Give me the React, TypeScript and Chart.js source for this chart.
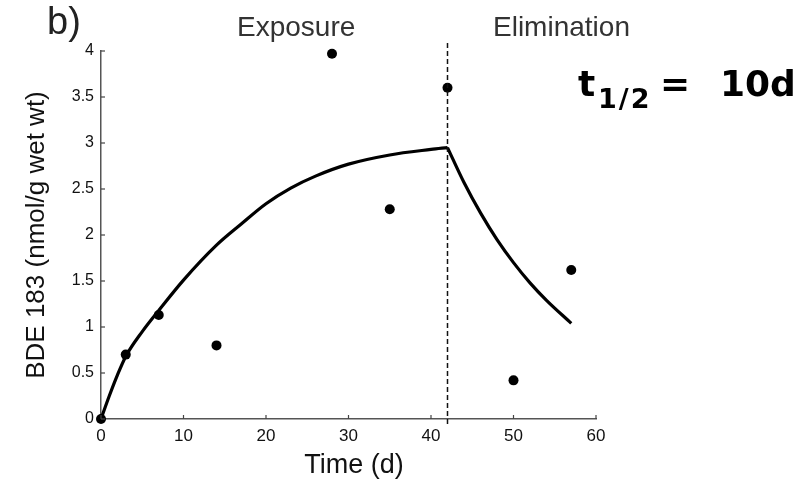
import React, { useEffect, useRef } from 'react';
import { Chart, registerables } from 'chart.js';

Chart.register(...registerables);

// Measured samples (day, nmol/g wet wt)
const sampleDays = [0, 3, 7, 14, 28, 35, 42, 50, 57];
const sampleConc = [0, 0.7, 1.13, 0.8, 3.97, 2.28, 3.6, 0.42, 1.62];

// Fitted curve: exposure phase
const uptakeDays = [0, 1, 2, 3, 5, 7, 10, 14, 17, 20, 23, 26, 30, 35, 40, 42];
const uptakeConc = [0, 0.25, 0.48, 0.68, 0.95, 1.18, 1.51, 1.89, 2.12, 2.34, 2.51, 2.64, 2.77, 2.87, 2.93, 2.95];

// Fitted curve: elimination phase
const elimDays = [42, 44, 46, 48, 50, 52, 54, 57];
const elimConc = [2.95, 2.57, 2.24, 1.95, 1.7, 1.48, 1.29, 1.04];

const xTicks = [0, 10, 20, 30, 40, 50, 60];
const yTicks = [0, 0.5, 1, 1.5, 2, 2.5, 3, 3.5, 4];
const switchDay = 42;

const panelLabel = 'b)';
const phaseLabels = ['Exposure', 'Elimination'];
const xTitle = 'Time (d)';
const yTitle = 'BDE 183 (nmol/g wet wt)';

const FONT = '"Liberation Sans", Arial, Helvetica, sans-serif';
const BOLD = '"DejaVu Sans", Verdana, sans-serif';

const decor = {
  id: 'decor',
  afterDraw(chart: any) {
    const { ctx, chartArea, scales } = chart;
    const x = scales.x;
    const y = scales.y;
    ctx.save();
    // inward tick marks
    ctx.strokeStyle = '#444';
    ctx.lineWidth = 1.2;
    xTicks.forEach((v) => {
      const px = x.getPixelForValue(v);
      ctx.beginPath();
      ctx.moveTo(px, chartArea.bottom);
      ctx.lineTo(px, chartArea.bottom - 4);
      ctx.stroke();
    });
    yTicks.forEach((v) => {
      const py = y.getPixelForValue(v);
      ctx.beginPath();
      ctx.moveTo(chartArea.left, py);
      ctx.lineTo(chartArea.left + 4, py);
      ctx.stroke();
    });
    // phase separator
    const dx = x.getPixelForValue(switchDay);
    ctx.setLineDash([5, 3]);
    ctx.lineWidth = 1.5;
    ctx.strokeStyle = '#111';
    ctx.beginPath();
    ctx.moveTo(dx, chartArea.top - 8);
    ctx.lineTo(dx, chartArea.bottom + 8);
    ctx.stroke();
    ctx.setLineDash([]);

    // texts
    ctx.fillStyle = '#222';
    ctx.textBaseline = 'alphabetic';
    ctx.textAlign = 'left';
    ctx.font = `38px ${FONT}`;
    ctx.fillText(panelLabel, 47, 34);

    ctx.fillStyle = '#333';
    ctx.font = `28px ${FONT}`;
    ctx.fillText(phaseLabels[0], 237, 36);
    ctx.fillText(phaseLabels[1], 493, 36);

    ctx.fillStyle = '#111';
    ctx.textAlign = 'center';
    ctx.font = `27px ${FONT}`;
    ctx.fillText(xTitle, 354, 473);

    ctx.save();
    ctx.translate(44, (chartArea.top + chartArea.bottom) / 2);
    ctx.rotate(-Math.PI / 2);
    ctx.font = `26px ${FONT}`;
    ctx.fillText(yTitle, 0, 0);
    ctx.restore();

    // half-life annotation
    ctx.fillStyle = '#000';
    ctx.textAlign = 'left';
    ctx.font = `bold 36px ${BOLD}`;
    ctx.fillText('t', 578, 96);
    ctx.font = `bold 27px ${BOLD}`;
    (ctx as any).letterSpacing = '2px';
    ctx.fillText('1/2', 598, 108);
    (ctx as any).letterSpacing = '0px';
    ctx.font = `bold 36px ${BOLD}`;
    ctx.fillText('=', 660, 96);
    ctx.fillText('10d', 720, 96);
    ctx.restore();
  },
};

export default function App() {
  const ref = useRef<HTMLCanvasElement | null>(null);

  useEffect(() => {
    const canvas = ref.current;
    if (!canvas) return;
    const lineStyle = {
      borderColor: '#000',
      backgroundColor: '#000',
      borderWidth: 3.2,
      pointRadius: 0,
      fill: false,
      cubicInterpolationMode: 'monotone' as const,
      clip: false as const,
    };
    const chart = new Chart(canvas, {
      type: 'line',
      data: {
        datasets: [
          {
            ...lineStyle,
            label: 'uptake',
            data: uptakeDays.map((d, i) => ({ x: d, y: uptakeConc[i] })),
          },
          {
            ...lineStyle,
            label: 'elimination',
            data: elimDays.map((d, i) => ({ x: d, y: elimConc[i] })),
          },
          {
            label: 'samples',
            type: 'scatter',
            data: sampleDays.map((d, i) => ({ x: d, y: sampleConc[i] })),
            showLine: false,
            pointRadius: 5,
            pointBackgroundColor: '#000',
            pointBorderColor: '#000',
            pointBorderWidth: 0,
            clip: false,
          } as any,
        ],
      },
      options: {
        responsive: false,
        animation: false,
        layout: { padding: { top: 51, right: 215, bottom: 0, left: 0 } },
        plugins: { legend: { display: false }, tooltip: { enabled: false } },
        scales: {
          x: {
            type: 'linear',
            min: 0,
            max: 60,
            afterBuildTicks: (s: any) => {
              s.ticks = xTicks.map((v) => ({ value: v }));
            },
            afterFit: (s: any) => {
              s.height = 62;
            },
            grid: { display: false, drawTicks: false },
            border: { display: true, color: '#555', width: 1.5 },
            ticks: {
              padding: 7,
              color: '#111',
              font: { family: FONT, size: 17 },
              maxRotation: 0,
              autoSkip: false,
              callback: (v: any) => String(v),
            },
          },
          y: {
            type: 'linear',
            min: 0,
            max: 4,
            afterBuildTicks: (s: any) => {
              s.ticks = yTicks.map((v) => ({ value: v }));
            },
            afterFit: (s: any) => {
              s.width = 101;
            },
            grid: { display: false, drawTicks: false },
            border: { display: true, color: '#555', width: 1.5 },
            ticks: {
              padding: 7,
              color: '#111',
              font: { family: FONT, size: 16 },
              autoSkip: false,
              callback: (v: any) => String(v),
            },
          },
        },
      },
      plugins: [decor],
    });
    return () => chart.destroy();
  }, []);

  return (
    <div style={{ position: 'absolute', left: 0, top: 0, width: 811, height: 481, background: '#fff' }}>
      <canvas ref={ref} width={811} height={481} style={{ display: 'block' }} />
    </div>
  );
}
